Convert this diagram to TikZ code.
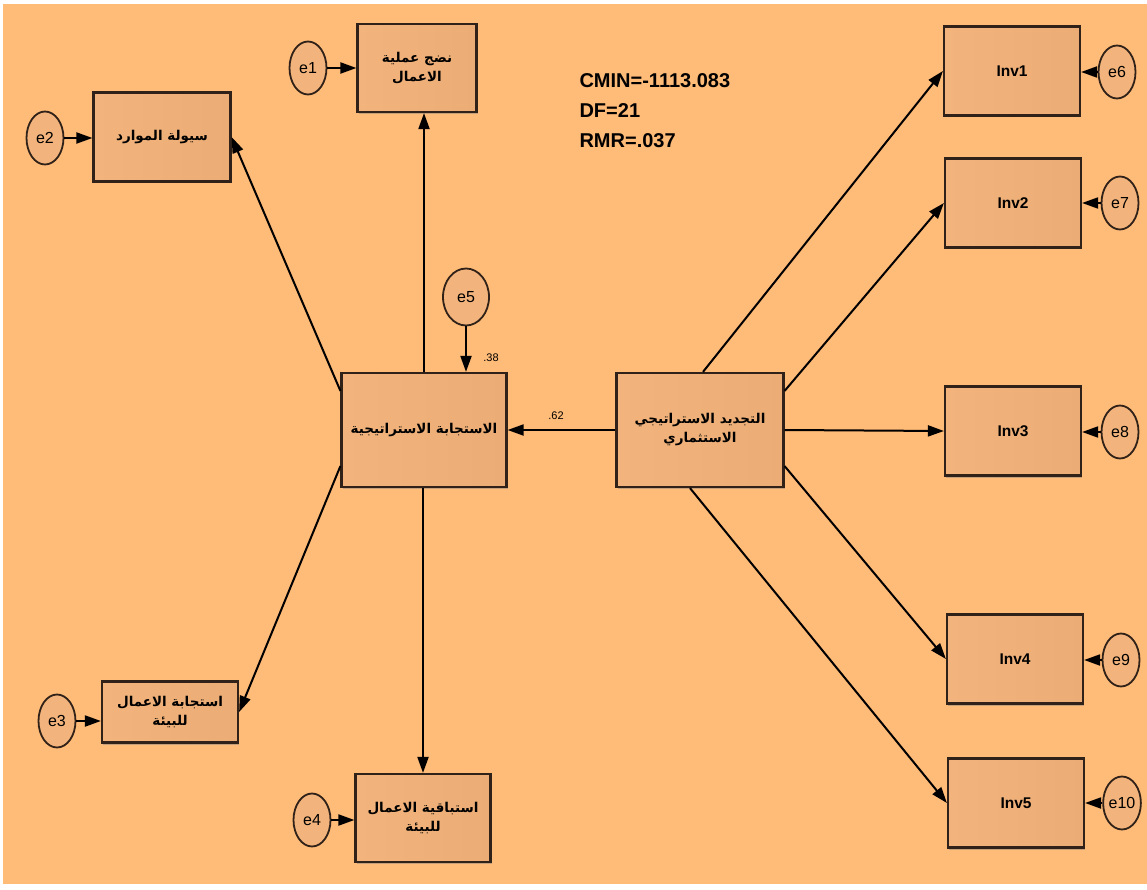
\documentclass[tikz,border=0pt]{standalone}
\usepackage{fontspec}
\setmainfont{Liberation Sans}
\newfontfamily\arabicfont[Script=Arabic]{DejaVu Sans}
\TeXXeTstate=1
\usetikzlibrary{shapes.geometric, arrows.meta, positioning, shadows}
\definecolor{bgorange}{RGB}{255,187,120}
\definecolor{boxleft}{RGB}{242,180,124}
\definecolor{boxright}{RGB}{235,173,117}
\definecolor{edgebrown}{RGB}{48,34,24}
\tikzset{
	varbox/.style={draw=edgebrown, line width=2.2pt, left color=boxleft, right color=boxright,
		minimum width=136pt, minimum height=89pt, inner sep=0pt, align=center,
		font=\arabicfont\bfseries\fontsize{13.5}{19}\selectfont,
		drop shadow={shadow xshift=1pt, shadow yshift=-2pt, opacity=.45}}
}
\tikzset{
	errnode/.style={ellipse, draw=edgebrown, line width=1.8pt, fill=boxleft,
		minimum width=37pt, minimum height=53pt, inner sep=0pt, font=\fontsize{16}{16}\selectfont}
}
\tikzset{
	link/.style={line width=2pt, draw=black, -{Triangle[length=16pt,width=11pt]}},
	coef/.style={font=\fontsize{11}{11}\selectfont}
}
\newcommand{\rtl}[1]{\beginR #1\endR}

\begin{document}
\begin{tikzpicture}[x=1pt,y=-1pt]
      \useasboundingbox (0,0) rectangle (1147,890);
      \fill[white] (0,0) rectangle (1147,890);
      \fill[bgorange] (3,4) rectangle (1147,884);
      % latent side: response and its four indicators
      \node[varbox, minimum width=165pt, minimum height=114pt] (response) at (424,430) {\rtl{الاستجابة الاستراتيجية}};
      \node[varbox, minimum width=119pt, minimum height=88pt] (maturity) at (417,68) {\rtl{نضج عملية}\\\rtl{الاعمال}};
      \node[varbox, minimum width=137pt] (liquidity) at (162,137) {\rtl{سيولة الموارد}};
      \node[varbox, minimum width=136pt, minimum height=61pt] (envresp) at (170,712) {\rtl{استجابة الاعمال}\\\rtl{للبيئة}};
      \node[varbox, minimum width=135pt, minimum height=88pt] (proactive) at (423,818) {\rtl{استباقية الاعمال}\\\rtl{للبيئة}};
      % renewal side
      \node[varbox, minimum width=167pt, minimum height=114pt] (renewal) at (700,430) {\rtl{التجديد الاستراتيجي}\\\rtl{الاستثماري}};
      \foreach \i/\x/\y in {1/1012/71, 2/1013/203, 3/1013/431, 4/1015/659, 5/1016/803}
        \node[varbox, font=\bfseries\fontsize{15.5}{15.5}\selectfont] (inv\i) at (\x,\y) {Inv\i};
      % error terms
      \node[errnode] (e1) at (308,68) {e1};
      \node[errnode] (e2) at (45,138) {e2};
      \node[errnode] (e3) at (57,721) {e3};
      \node[errnode] (e4) at (312,820) {e4};
      \node[errnode, minimum width=46pt, minimum height=57pt] (e5) at (466,297) {e5};
      \foreach \i/\e/\x/\y in {1/6/1117/72, 2/7/1120/203, 3/8/1120/432, 4/9/1121/660, 5/10/1122/803}
        \node[errnode] (e\e) at (\x,\y) {e\e};
      % paths
      \draw[link] (response.north) -- (response.north |- maturity.south);
      \draw[link] ([yshift=-19pt]response.north west) -- (liquidity.east);
      \draw[link] ([yshift=22pt]response.south west) -- (envresp.east);
      \draw[link] (proactive.north |- response.south) -- (proactive.north);
      \draw[link] (e5.south) -- (e5.south |- response.north);
      \draw[link] (renewal.west) -- (response.east);
      \draw[link] ([xshift=3pt]renewal.north) -- (inv1.west);
      \draw[link] ([yshift=-19pt]renewal.north east) -- (inv2.west);
      \draw[link] (renewal.east) -- (inv3.west);
      \draw[link] ([yshift=22pt]renewal.south east) -- (inv4.west);
      \draw[link] ([xshift=-10pt]renewal.south) -- (inv5.west);
      \draw[link] (e1) -- (maturity.west |- e1);
      \draw[link] (e2) -- (liquidity.west |- e2);
      \draw[link] (e3) -- (envresp.west |- e3);
      \draw[link] (e4) -- (proactive.west |- e4);
      \foreach \i/\e in {1/6, 2/7, 3/8, 4/9, 5/10}
        \draw[link] (e\e) -- (inv\i.east |- e\e);
      % estimates and fit
      \node[coef] (r62) at (556,416) {.62};
      \node[coef] (r38) at (491,358) {.38};
      \node[anchor=north west, align=left, font=\bfseries\fontsize{20}{30}\selectfont] (fit) at (576,70)
        {CMIN=-1113.083\\DF=21\\RMR=.037};
\end{tikzpicture}
\end{document}
